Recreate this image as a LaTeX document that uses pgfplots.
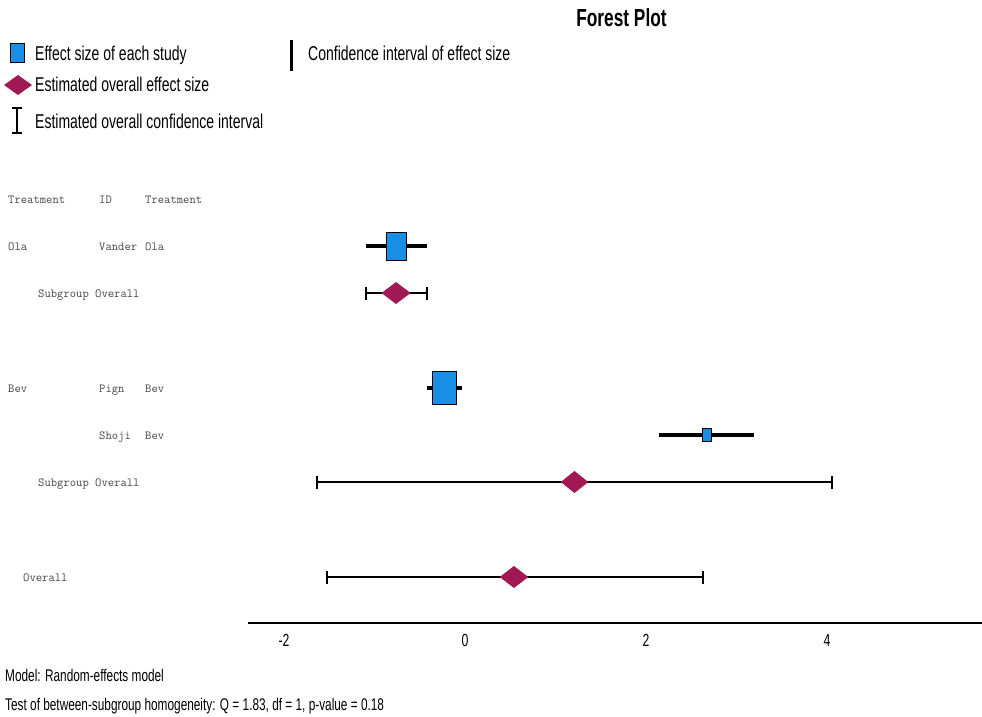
\documentclass[border=0pt]{standalone}
\usepackage{fontspec}
\setmainfont{Liberation Sans}[FakeStretch=0.70]
\usepackage{pgfplots}
\pgfplotsset{compat=1.18}
\definecolor{studyblue}{RGB}{24,142,228}
\definecolor{sumred}{RGB}{160,24,84}
\definecolor{txtgray}{RGB}{70,70,70}
\pgfdeclareplotmark{fdiamond}{%
 \pgfpathmoveto{\pgfqpoint{-\pgfplotmarksize}{0pt}}%
 \pgfpathlineto{\pgfqpoint{0pt}{\pgfplotmarksize}}%
 \pgfpathlineto{\pgfqpoint{\pgfplotmarksize}{0pt}}%
 \pgfpathlineto{\pgfqpoint{0pt}{-\pgfplotmarksize}}%
 \pgfpathclose\pgfusepathqfill}
\newcommand{\mono}{\ttfamily\fontsize{12.3}{14}\selectfont\color{txtgray}}
\begin{document}
\begin{tikzpicture}[x=1pt,y=1pt]
\useasboundingbox (0,-717) rectangle (982,0);
\begin{axis}[at={(248pt,-623pt)}, anchor=south west, scale only axis,
  width=734pt, height=623pt,
  xmin=-2.398, xmax=5.713, ymin=-623, ymax=0,
  axis x line=bottom, axis y line=none,
  x axis line style={-, line width=1.2pt},
  xtick={-2,0,2,4}, xticklabels={-2,0,2,4},
  major tick length=0pt,
  xticklabel style={anchor=base, yshift=-23pt, font=\fontsize{17.5}{20}\selectfont},
  clip=false]
% Vander Ola
\addplot[line width=4pt, mark=none] coordinates {(-1.094,-246) (-0.420,-246)};
\addplot[only marks, mark=square*, mark size=14pt, mark options={fill=studyblue, draw=black, line width=1pt, xscale=0.71}] coordinates {(-0.757,-246)};
% Subgroup Ola
\addplot[line width=1.8pt, mark=|, mark size=6.5pt, mark options={line width=1.8pt}] coordinates {(-1.094,-293) (-0.420,-293)};
\addplot[only marks, mark=fdiamond, mark size=11pt, mark options={fill=sumred, draw=none, xscale=1.32}] coordinates {(-0.762,-293)};
% Pign Bev
\addplot[only marks, mark=square*, mark size=16.5pt, mark options={fill=studyblue, draw=black, line width=1pt, xscale=0.727}] coordinates {(-0.232,-387.5)};
\addplot[line width=4pt, mark=none] coordinates {(-0.420,-387.5) (-0.033,-387.5)};
% Shoji Bev
\addplot[line width=4pt, mark=none] coordinates {(2.144,-435) (3.193,-435)};
\addplot[only marks, mark=square*, mark size=6.5pt, mark options={fill=studyblue, draw=black, line width=1pt, xscale=0.69}] coordinates {(2.674,-435)};
% Subgroup Bev
\addplot[line width=1.8pt, mark=|, mark size=6.5pt, mark options={line width=1.8pt}] coordinates {(-1.635,-482) (4.055,-482)};
\addplot[only marks, mark=fdiamond, mark size=11pt, mark options={fill=sumred, draw=none, xscale=1.25}] coordinates {(1.210,-482)};
% Overall
\addplot[line width=1.8pt, mark=|, mark size=6.5pt, mark options={line width=1.8pt}] coordinates {(-1.525,-577) (2.630,-577)};
\addplot[only marks, mark=fdiamond, mark size=11pt, mark options={fill=sumred, draw=none, xscale=1.3}] coordinates {(0.541,-577)};
\end{axis}
% title
\node[anchor=base, inner sep=0] at (621.5,-27) {\fontsize{24.7}{27}\selectfont\bfseries Forest Plot};
% legend
\draw[fill=studyblue, line width=1pt] (10,-44) rectangle (24,-63);
\node[anchor=base west, inner sep=0] at (35,-60) {\fontsize{20}{22}\selectfont Effect size of each study};
\draw[line width=3pt] (291,-40) -- (291,-71);
\node[anchor=base west, inner sep=0] at (308,-60) {\fontsize{20}{22}\selectfont Confidence interval of effect size};
\fill[sumred] (4,-85) -- (18,-75) -- (32,-85) -- (18,-95) -- cycle;
\node[anchor=base west, inner sep=0] at (35,-92) {\fontsize{20}{22}\selectfont Estimated overall effect size};
\draw[line width=1.3pt] (17,-108) -- (17,-133);
\draw[line width=1.3pt] (12,-108) -- (22,-108);
\draw[line width=1.3pt] (12,-133) -- (22,-133);
\node[anchor=base west, inner sep=0] at (35,-128) {\fontsize{20}{22}\selectfont Estimated overall confidence interval};
% study table text
\node[anchor=base west, inner sep=0] at (8,-203) {\mono Treatment};
\node[anchor=base west, inner sep=0] at (99,-203) {\mono ID};
\node[anchor=base west, inner sep=0] at (145,-203) {\mono Treatment};
\node[anchor=base west, inner sep=0] at (8,-250) {\mono Ola};
\node[anchor=base west, inner sep=0] at (99,-250) {\mono Vander};
\node[anchor=base west, inner sep=0] at (145,-250) {\mono Ola};
\node[anchor=base west, inner sep=0] at (38,-297) {\mono Subgroup Overall};
\node[anchor=base west, inner sep=0] at (8,-392) {\mono Bev};
\node[anchor=base west, inner sep=0] at (99,-392) {\mono Pign};
\node[anchor=base west, inner sep=0] at (145,-392) {\mono Bev};
\node[anchor=base west, inner sep=0] at (99,-439) {\mono Shoji};
\node[anchor=base west, inner sep=0] at (145,-439) {\mono Bev};
\node[anchor=base west, inner sep=0] at (38,-486) {\mono Subgroup Overall};
\node[anchor=base west, inner sep=0] at (23,-581) {\mono Overall};
% footer
\node[anchor=base west, inner sep=0] at (5,-681) {\fontsize{16.9}{19}\selectfont Model: Random-effects model};
\node[anchor=base west, inner sep=0] at (5,-710) {\fontsize{16.9}{19}\selectfont Test of between-subgroup homogeneity: Q = 1.83, df = 1, p-value = 0.18};
\end{tikzpicture}
\end{document}
